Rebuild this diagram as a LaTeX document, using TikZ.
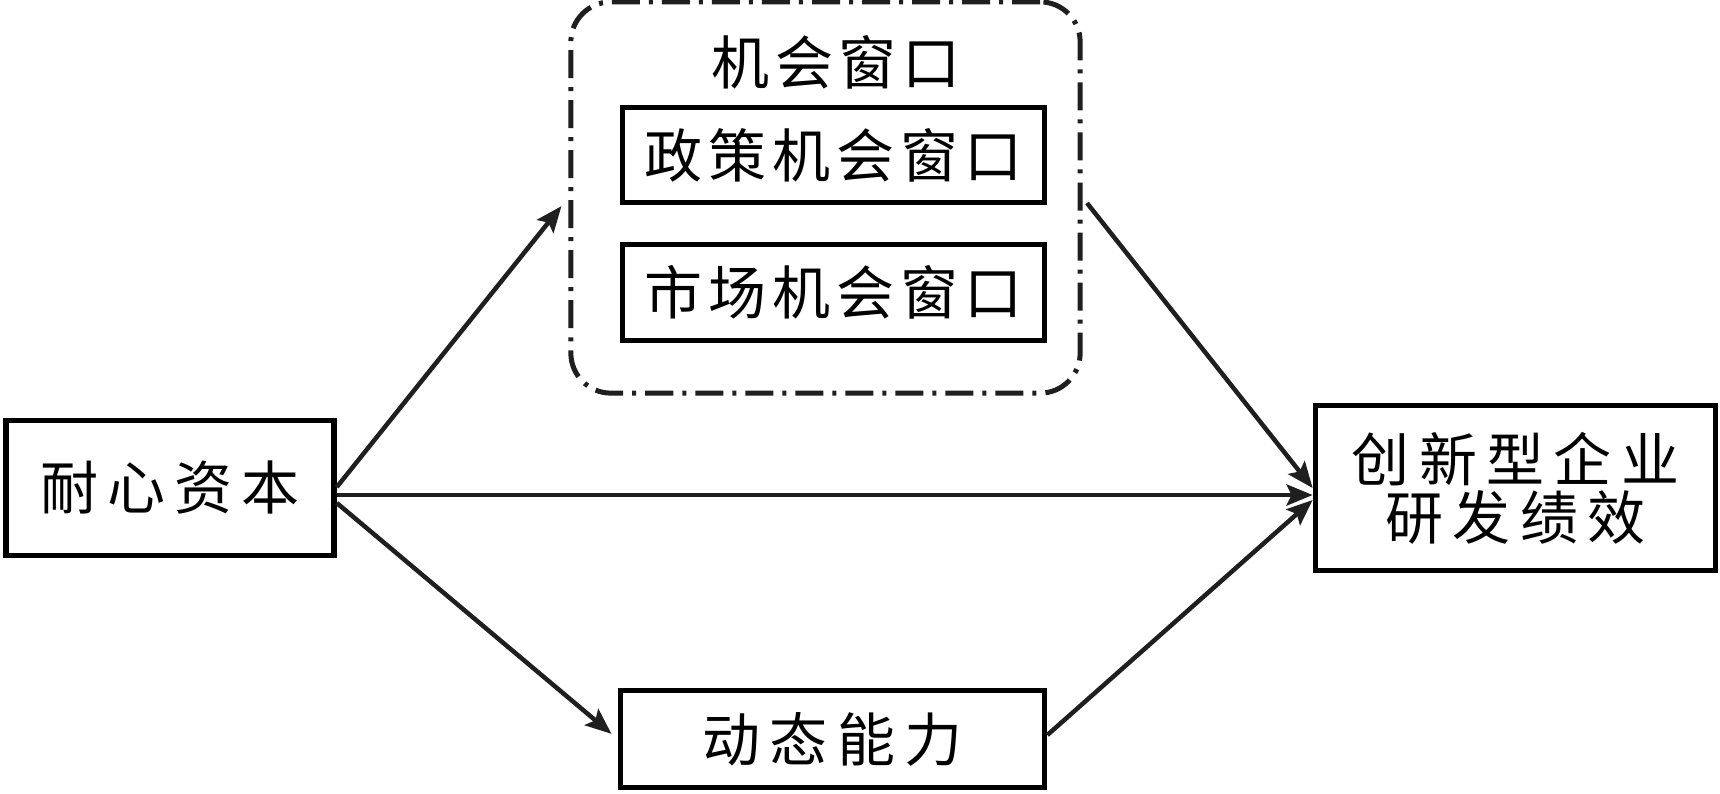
\documentclass[tikz,border=0pt]{standalone}
\usepackage{fontspec}
\newfontfamily\cjk{Noto Sans CJK SC}[LetterSpace=10]
\newfontfamily\cjkwide{Noto Sans CJK SC}[LetterSpace=16]
\usetikzlibrary{arrows.meta}
\begin{document}
\begin{tikzpicture}[x=0.01cm,y=-0.01cm,
  cjkfont/.style={font=\cjk\fontsize{16.5pt}{16.5pt}\selectfont},
  widefont/.style={font=\cjkwide\fontsize{16.5pt}{16.5pt}\selectfont},
  box/.style={draw=black, line width=0.055cm, inner sep=0pt, align=center, cjkfont},
  conn/.style={draw=black!88, line width=0.045cm, -{Stealth[length=0.26cm,width=0.21cm,inset=0.05cm]}},
  grpbox/.style={draw=black!88, line width=0.05cm, rounded corners=0.4cm,
    dash pattern=on 0.28cm off 0.09cm on 0.04cm off 0.09cm}]
\useasboundingbox (0,0) rectangle (1720,793);

\node[box, widefont, minimum width=3.28cm, minimum height=1.35cm] (src) at (170,488) {耐心资本};
\node[box, widefont, minimum width=4.0cm, minimum height=1.65cm] (tgt) at (1515.5,488) {创新型企业\\研发绩效};
\node[box, minimum width=4.22cm, minimum height=0.95cm] (pol) at (833.5,155) {政策机会窗口};
\node[box, minimum width=4.22cm, minimum height=0.96cm] (mkt) at (833.5,292.5) {市场机会窗口};
\node[box, widefont, minimum width=4.24cm, minimum height=0.97cm] (dyn) at (832.5,739) {动态能力};
\node[grpbox, minimum width=5.09cm, minimum height=3.91cm] (grp) at (825.5,197.5) {};
\node[cjkfont, inner sep=0pt] (ttl) at (836,62) {机会窗口};

\draw[conn, shorten >=0.11cm] ([yshift=0.01cm]src.east) -- (grp.west);
\draw[conn] ([yshift=-0.07cm]src.east) -- ([yshift=-0.07cm]src.east -| tgt.west);
\draw[conn, shorten >=0.08cm] ([yshift=-0.15cm]src.east) -- (dyn.west);
\draw[conn, shorten <=0.07cm] (grp.east) -- (tgt.west);
\draw[conn] ([yshift=0.04cm]dyn.east) -- ([yshift=-0.12cm]tgt.west);
\end{tikzpicture}
\end{document}
